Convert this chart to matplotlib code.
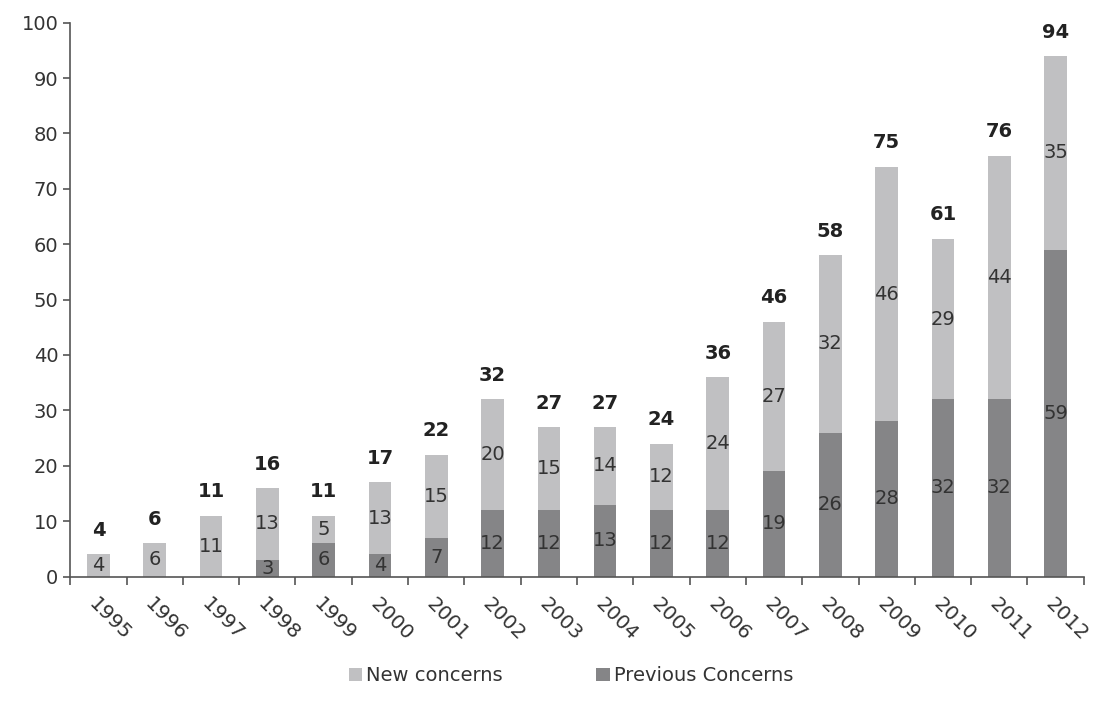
import numpy as np
import matplotlib.pyplot as plt

years = ['1995', '1996', '1997', '1998', '1999', '2000', '2001', '2002', '2003',
         '2004', '2005', '2006', '2007', '2008', '2009', '2010', '2011', '2012']
previous = [0, 0, 0, 3, 6, 4, 7, 12, 12, 13, 12, 12, 19, 26, 28, 32, 32, 59]
new = [4, 6, 11, 13, 5, 13, 15, 20, 15, 14, 12, 24, 27, 32, 46, 29, 44, 35]
totals = [4, 6, 11, 16, 11, 17, 22, 32, 27, 27, 24, 36, 46, 58, 75, 61, 76, 94]

c_new = '#c0c0c2'
c_prev = '#858587'
txt = '#333333'

plt.rcParams['font.family'] = 'DejaVu Sans'
fs = 14

fig = plt.figure(figsize=(10.98, 7.10), dpi=100)
ax = fig.add_axes([0.064, 0.188, 0.923, 0.78])

x = np.arange(len(years))
w = 0.40
ax.bar(x, previous, w, color=c_prev, label='Previous Concerns')
ax.bar(x, new, w, bottom=previous, color=c_new, label='New concerns')

for i in range(len(years)):
    if previous[i] > 0:
        ax.text(x[i], previous[i] / 2, str(previous[i]), ha='center', va='center',
                fontsize=fs, color=txt)
    ax.text(x[i], previous[i] + new[i] / 2, str(new[i]), ha='center', va='center',
            fontsize=fs, color=txt)
    ax.text(x[i], previous[i] + new[i] + 2.6, str(totals[i]), ha='center', va='bottom',
            fontsize=fs, fontweight='bold', color='#222222')

ax.set_xlim(-0.5, len(years) - 0.5)
ax.set_ylim(0, 100)
ax.set_yticks(range(0, 101, 10))
ax.tick_params(axis='y', labelsize=fs, colors=txt, length=5, width=1.2, direction='out')

# ticks between categories, labels under each bar
ax.set_xticks(np.arange(-0.5, len(years), 1))
ax.set_xticklabels([])
ax.set_xticks(x, minor=True)
ax.set_xticklabels(years, minor=True, rotation=-45, ha='left', rotation_mode='anchor',
                   fontsize=fs + 0.5, color=txt)
ax.tick_params(axis='x', which='major', length=6, width=1.2, color='#555555')
ax.tick_params(axis='x', which='minor', length=0, pad=13)
ax.tick_params(axis='y', color='#555555')

for s in ['top', 'right']:
    ax.spines[s].set_visible(False)
for s in ['left', 'bottom']:
    ax.spines[s].set_color('#555555')
    ax.spines[s].set_linewidth(1.2)

handles, labels = ax.get_legend_handles_labels()
fig.legend(handles[::-1], labels[::-1], loc='lower center', bbox_to_anchor=(0.52, 0.01),
           ncol=2, frameon=False, fontsize=fs, handlelength=0.7, handleheight=0.7,
           handletextpad=0.2, columnspacing=4.8, labelcolor=txt)

fig.savefig('out.png', dpi=100)
